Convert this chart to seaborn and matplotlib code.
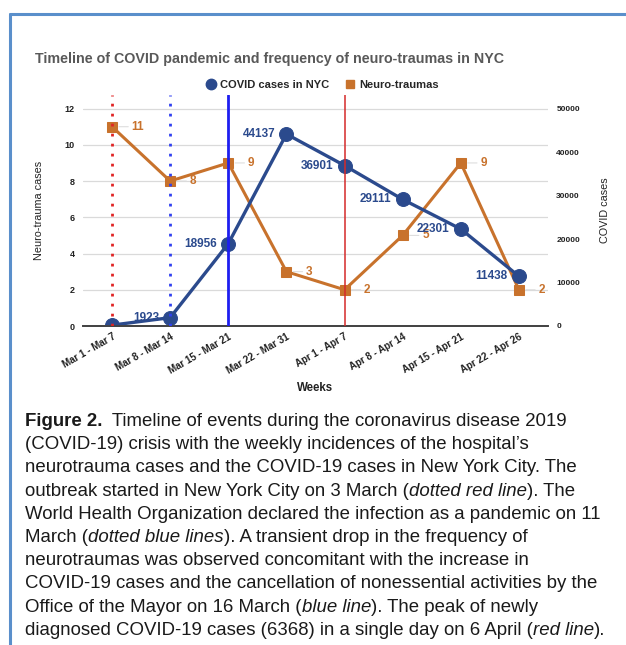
import matplotlib
matplotlib.use("Agg")
import matplotlib.pyplot as plt
import seaborn as sns
import pandas as pd
from matplotlib.lines import Line2D

sns.set_theme(style="white")
plt.rcParams['font.family'] = ['Liberation Sans', 'DejaVu Sans']

weeks = ["Mar 1 - Mar 7", "Mar 8 - Mar 14", "Mar 15 - Mar 21", "Mar 22 - Mar 31",
         "Apr 1 - Apr 7", "Apr 8 - Apr 14", "Apr 15 - Apr 21", "Apr 22 - Apr 26"]
covid_cases = [200, 1923, 18956, 44137, 36901, 29111, 22301, 11438]
covid_labels = ["", "1923", "18956", "44137", "36901", "29111", "22301", "11438"]
neuro_cases = [11, 8, 9, 3, 2, 5, 9, 2]
left_ticks = [0, 2, 4, 6, 8, 10, 12]
right_ticks = [0, 10000, 20000, 30000, 40000, 50000]

NAVY = "#2B4A8D"
ORANGE = "#C8722C"

W, H = 626, 645
fig = plt.figure(figsize=(W / 100, H / 100), dpi=100)

def fx(px):
    return px / W

def fy(py):
    return 1 - py / H

ax = fig.add_axes([fx(83), fy(326), fx(548) - fx(83), fy(95) - fy(326)])
ax2 = ax.twinx()

df = pd.DataFrame({"week": weeks, "covid": covid_cases, "neuro": neuro_cases})

sns.lineplot(data=df, x="week", y="neuro", ax=ax, sort=False, color=ORANGE,
             marker="s", markersize=7, markeredgecolor=ORANGE, lw=2.2)
sns.lineplot(data=df, x="week", y="covid", ax=ax2, sort=False, color=NAVY,
             marker="o", markersize=10, markeredgecolor=NAVY, lw=2.4)

ytop = 12.75
ax.set_ylim(0, ytop)
ax2.set_ylim(0, 50000 * ytop / 12)
ax.set_xlim(-0.5, 7.5)
ax.set_yticks(left_ticks)
ax.set_yticklabels([str(t) for t in left_ticks], fontsize=6.5, fontweight="bold", color="#222")
ax2.set_yticks(right_ticks)
ax2.set_yticklabels([str(t) for t in right_ticks], fontsize=6, fontweight="bold", color="#222")
ax.tick_params(axis="both", length=0, pad=6)
ax2.tick_params(axis="y", length=0, pad=6)
ax.grid(axis="y", color="#DADADA", lw=0.9)
ax.grid(axis="x", visible=False)
ax2.grid(False)

ax.set_xticks(range(len(weeks)))
ax.set_xticklabels(weeks, rotation=30, ha="right", rotation_mode="anchor",
                   fontsize=7, fontweight="bold", color="#222")
ax.tick_params(axis="x", pad=4)

for a in (ax, ax2):
    for s in ("top", "left", "right"):
        a.spines[s].set_visible(False)
    a.spines["bottom"].set_color("#444")
    a.spines["bottom"].set_linewidth(1.3)

ax.set_xlabel("Weeks", fontsize=8.3, fontweight="bold", color="#222", labelpad=5)
ax.set_ylabel("Neuro-trauma cases", fontsize=7.8, color="#222", labelpad=15)
ax2.set_ylabel("COVID cases", fontsize=7.8, color="#222", labelpad=14)

# event lines
ax2.axvline(0, color="#E02424", ls=(0, (1, 2.6)), lw=2, zorder=10)
ax2.axvline(1, color="#3040F0", ls=(0, (1, 2.6)), lw=2, zorder=10)
ax2.axvline(2, color="#1E1EF0", lw=2, zorder=10)
ax2.axvline(4, color="#D42A2A", lw=1.1, zorder=10)

# data labels
for i, v in enumerate(neuro_cases):
    ax.annotate(str(v), xy=(i, v), xytext=(14, 0), textcoords="offset points",
                ha="left", va="center", fontsize=8.5, fontweight="bold", color=ORANGE,
                arrowprops=dict(arrowstyle="-", color="#DDDDDD", lw=0.8, shrinkA=0, shrinkB=5))
for i, (v, lab) in enumerate(zip(covid_cases, covid_labels)):
    if lab:
        ax2.annotate(lab, xy=(i, v), xytext=(-8, 0), textcoords="offset points",
                     ha="right", va="center", fontsize=8.5, fontweight="bold", color=NAVY,
                     zorder=12)

# title & legend
fig.text(fx(35), fy(59), "Timeline of COVID pandemic and frequency of neuro-traumas in NYC",
         fontsize=10.3, fontweight="bold", color="#595959", va="center", ha="left")
handles = [Line2D([], [], ls="none", marker="o", color=NAVY, markersize=7.5),
           Line2D([], [], ls="none", marker="s", color=ORANGE, markersize=5.5)]
fig.legend(handles, ["COVID cases in NYC", "Neuro-traumas"], loc="center",
           bbox_to_anchor=(fx(322), fy(85)), ncol=2, frameon=False,
           prop=dict(size=8, weight="bold"), handletextpad=0.3, columnspacing=1.4,
           handlelength=1.0)

# border
fig.add_artist(Line2D([fx(10), 1], [fy(14), fy(14)], color="#5A8FCB", lw=2.2))
fig.add_artist(Line2D([fx(10), fx(10)], [fy(14), 0], color="#5A8FCB", lw=2.2))

# caption
caption = [
    [("Figure 2.", "bold"), ("  Timeline of events during the coronavirus disease 2019", "normal")],
    [("(COVID-19) crisis with the weekly incidences of the hospital\u2019s", "normal")],
    [("neurotrauma cases and the COVID-19 cases in New York City. The", "normal")],
    [("outbreak started in New York City on 3 March (", "normal"), ("dotted red line", "italic"), ("). The", "normal")],
    [("World Health Organization declared the infection as a pandemic on 11", "normal")],
    [("March (", "normal"), ("dotted blue lines", "italic"), ("). A transient drop in the frequency of", "normal")],
    [("neurotraumas was observed concomitant with the increase in", "normal")],
    [("COVID-19 cases and the cancellation of nonessential activities by the", "normal")],
    [("Office of the Mayor on 16 March (", "normal"), ("blue line", "italic"), ("). The peak of newly", "normal")],
    [("diagnosed COVID-19 cases (6368) in a single day on 6 April (", "normal"), ("red line", "italic"), (").", "normal")],
]
fig.canvas.draw()
renderer = fig.canvas.get_renderer()
cap_size = 13.4
y0 = 426
for li, runs in enumerate(caption):
    xpx = 25
    ypx = y0 + li * 23.2
    for txt, style in runs:
        kw = dict(fontsize=cap_size, color="#1A1A1A", va="baseline", ha="left")
        if style == "bold":
            kw["fontweight"] = "bold"
        if style == "italic":
            kw["fontstyle"] = "italic"
        t = fig.text(fx(xpx), fy(ypx), txt, **kw)
        bb = t.get_window_extent(renderer=renderer)
        xpx += bb.width

fig.savefig("out.png", dpi=100)
